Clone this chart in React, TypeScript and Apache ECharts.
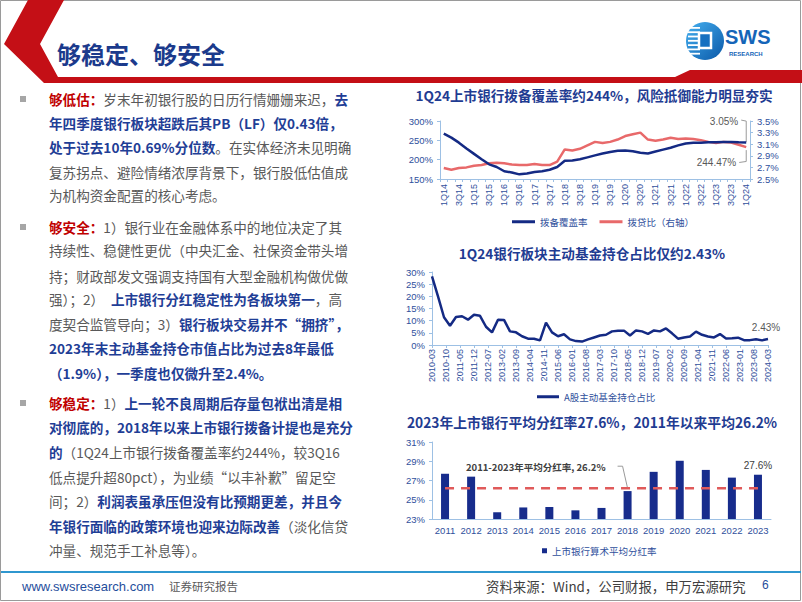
import React, { useEffect, useRef } from 'react';
import * as echarts from 'echarts';

// ---------- data ----------
const quarterLabels: string[] = (() => {
  const a: string[] = [];
  for (let y = 14; y <= 24; y++) {
    for (let q = 1; q <= 4; q++) {
      if (y === 24 && q > 1) break;
      a.push(`${q}Q${y}`);
    }
  }
  return a;
})();

// 拨备覆盖率 (%), 1Q14 - 1Q24
const coverageRatio = [
  267.6, 257, 244, 229,
  215, 201, 188, 181,
  170, 167, 162, 164,
  168, 170, 174, 181,
  197, 198, 201, 206,
  211, 216, 220, 223,
  224, 222, 218, 216,
  221, 226, 231, 237,
  242, 244, 244, 245,
  245, 246, 246, 245,
  244.47,
];

// 拨贷比 (%), right axis
const loanProvisionRatio = [
  2.69, 2.66, 2.69, 2.7,
  2.73, 2.74, 2.77, 2.78,
  2.77, 2.75, 2.74, 2.74,
  2.76, 2.74, 2.74, 2.8,
  3.01, 2.99, 3.02, 3.08,
  3.14, 3.12, 3.14, 3.18,
  3.24, 3.27, 3.3, 3.18,
  3.16, 3.18, 3.21, 3.19,
  3.2, 3.19, 3.17, 3.14,
  3.12, 3.14, 3.13, 3.09,
  3.05,
];

// month categories 2010-03 .. 2024-03
const monthLabels: string[] = (() => {
  const a: string[] = [];
  let y = 2010;
  let m = 3;
  while (y < 2024 || (y === 2024 && m <= 3)) {
    a.push(`${y}-${String(m).padStart(2, '0')}`);
    m++;
    if (m > 12) { m = 1; y++; }
  }
  return a;
})();

// A股主动基金持仓占比 (%), quarter ends 2010-03 .. 2024-03
const fundShareQuarterly = [
  28.2, 20.0, 11.4, 7.9, 11.5, 11.8, 10.4, 12.4, 12.0, 7.5,
  5.2, 10.4, 10.3, 5.6, 5.2, 3.6, 2.6, 2.6, 1.9, 9.2,
  5.2, 3.6, 4.4, 2.3, 1.6, 1.4, 2.3, 3.1, 3.9, 4.2,
  5.6, 5.9, 5.9, 3.9, 6.0, 5.6, 4.6, 6.0, 5.6, 6.8,
  4.8, 2.6, 3.1, 3.5, 5.5, 4.2, 3.5, 3.1, 4.5, 2.7,
  2.8, 3.0, 2.0, 2.0, 2.4, 1.9, 2.43,
];

const payoutYears = ['2011', '2012', '2013', '2014', '2015', '2016', '2017', '2018', '2019', '2020', '2021', '2022', '2023'];
const payoutRatio = [27.7, 27.4, 23.7, 24.2, 24.25, 23.9, 24.15, 25.9, 27.9, 29.05, 28.1, 27.3, 27.6];
const payoutAverage = 26.2;

// ---------- styles ----------
const TITLE_COLOR = '#1F3C92';
const AXIS_LINE = '#9DC0E4';
const AXIS_LABEL = '#30509C';
const NAVY = '#142A84';
const RED_LINE = '#E8696A';
const FONT_CN = "'Noto Sans CJK SC', sans-serif";
const FONT_NUM = "'Liberation Sans', 'Noto Sans CJK SC', sans-serif";
const BODY_FS = 13.6;

const bodyLines: { y: number; segs: [string, string][] }[] = [
  { y: 99, segs: [['r', '够低估：'], ['g', '岁末年初银行股的日历行情姗姗来迟，'], ['b', '去']] },
  { y: 123, segs: [['b', '年四季度银行板块超跌后其PB（LF）仅0.43倍，']] },
  { y: 147, segs: [['b', '处于过去10年0.69%分位数'], ['g', '。在实体经济未见明确']] },
  { y: 172, segs: [['g', '复苏拐点、避险情绪浓厚背景下，银行股低估值成']] },
  { y: 195, segs: [['g', '为机构资金配置的核心考虑。']] },
  { y: 227, segs: [['r', '够安全：'], ['g', '1）银行业在金融体系中的地位决定了其']] },
  { y: 250, segs: [['g', '持续性、稳健性更优（中央汇金、社保资金带头增']] },
  { y: 276, segs: [['g', '持；财政部发文强调支持国有大型金融机构做优做']] },
  { y: 299, segs: [['g', '强）；2）'], ['b', '上市银行分红稳定性为各板块第一'], ['g', '，高']] },
  { y: 324, segs: [['g', '度契合监管导向；3）'], ['b', '银行板块交易并不“拥挤”，']] },
  { y: 348, segs: [['b', '2023年末主动基金持仓市值占比为过去8年最低']] },
  { y: 373, segs: [['b', '（1.9%），一季度也仅微升至2.4%。']] },
  { y: 403, segs: [['r', '够稳定：'], ['g', '1）'], ['b', '上一轮不良周期后存量包袱出清是相']] },
  { y: 427, segs: [['b', '对彻底的，2018年以来上市银行拨备计提也是充分']] },
  { y: 452, segs: [['b', '的'], ['g', '（1Q24上市银行拨备覆盖率约244%，较3Q16']] },
  { y: 477, segs: [['g', '低点提升超80pct），为业绩“以丰补歉”留足空']] },
  { y: 501, segs: [['g', '间；2）'], ['b', '利润表虽承压但没有比预期更差，并且今']] },
  { y: 526, segs: [['b', '年银行面临的政策环境也迎来边际改善'], ['g', '（淡化信贷']] },
  { y: 550, segs: [['g', '冲量、规范手工补息等）。']] },
];
const bulletYs = [99, 227, 403];

function txt(x: number, y: number, text: string, o: any = {}) {
  const align = o.align || 'left';
  return {
    type: 'text',
    x,
    y,
    silent: true,
    style: {
      text,
      fill: o.fill || '#333',
      fontSize: o.fontSize || 12,
      fontWeight: o.fontWeight || 'normal',
      fontFamily: o.fontFamily || FONT_CN,
      textAlign: align,
      align,
      textVerticalAlign: 'middle',
      verticalAlign: 'middle',
    },
  };
}

function staticGraphics(): any[] {
  const g: any[] = [];
  // slide border
  g.push({ type: 'rect', shape: { x: 0.5, y: 0.5, width: 800, height: 600 }, style: { fill: 'none', stroke: '#9A9A9A', lineWidth: 1 }, silent: true });
  // red header chevron + bar
  g.push({
    type: 'polygon',
    silent: true,
    shape: {
      points: [[28, 0], [64, 0], [40, 44], [58, 77], [675, 77], [690, 70], [802, 70], [802, 83], [44, 83], [4, 44]],
    },
    style: { fill: '#C40F16' },
  });
  // page title
  g.push(txt(57, 53, '够稳定、够安全', { fontSize: 24, fontWeight: 'bold', fill: '#1B3A8C' }));
  // logo
  g.push({
    type: 'circle',
    silent: true,
    shape: { cx: 705, cy: 41, r: 19 },
    style: {
      fill: new echarts.graphic.LinearGradient(0, 0, 1, 1, [
        { offset: 0, color: '#45B0F0' },
        { offset: 1, color: '#0A58A8' },
      ]),
    },
  });
  for (let i = 0; i < 7; i++) {
    g.push({ type: 'rect', silent: true, shape: { x: 688, y: 27 + i * 4.3, width: 12, height: 1.8 }, style: { fill: '#ffffff' } });
  }
  g.push({ type: 'rect', silent: true, shape: { x: 699, y: 33, width: 12, height: 15 }, style: { fill: '#1670C0', stroke: '#ffffff', lineWidth: 2.5 } });
  g.push(txt(725, 37, 'SWS', { fontSize: 20, fontWeight: 'bold', fill: '#1565B8', fontFamily: FONT_NUM }));
  g.push(txt(729, 53.5, 'RESEARCH', { fontSize: 6, fontWeight: 'bold', fill: '#1565B8', fontFamily: FONT_NUM }));

  // body bullets + text
  bulletYs.forEach((y) => {
    g.push({ type: 'rect', silent: true, shape: { x: 20, y: y - 3, width: 6, height: 6 }, style: { fill: '#A6A6A6' } });
  });
  const rich = {
    r: { fill: '#C00000', fontWeight: 'bold', fontSize: BODY_FS, fontFamily: FONT_CN },
    g: { fill: '#595959', fontWeight: 'normal', fontSize: BODY_FS, fontFamily: FONT_CN },
    b: { fill: '#1F3E96', fontWeight: 'bold', fontSize: BODY_FS, fontFamily: FONT_CN },
  };
  bodyLines.forEach((ln) => {
    g.push({
      type: 'text',
      x: 49,
      y: ln.y,
      silent: true,
      style: {
        text: ln.segs.map(([k, t]) => `{${k}|${t}}`).join(''),
        rich,
        fontSize: BODY_FS,
        fontFamily: FONT_CN,
        textAlign: 'left',
        align: 'left',
        textVerticalAlign: 'middle',
        verticalAlign: 'middle',
      },
    });
  });

  // chart titles
  g.push(txt(594, 95, '1Q24上市银行拨备覆盖率约244%，风险抵御能力明显夯实', { align: 'center', fontSize: 13.6, fontWeight: 'bold', fill: TITLE_COLOR }));
  g.push(txt(592, 253, '1Q24银行板块主动基金持仓占比仅约2.43%', { align: 'center', fontSize: 13.6, fontWeight: 'bold', fill: TITLE_COLOR }));
  g.push(txt(592, 422, '2023年上市银行平均分红率27.6%，2011年以来平均26.2%', { align: 'center', fontSize: 13.8, fontWeight: 'bold', fill: TITLE_COLOR }));

  // footer
  g.push({ type: 'line', silent: true, shape: { x1: 1, y1: 572, x2: 801, y2: 572 }, style: { stroke: '#2F97CF', lineWidth: 2 } });
  g.push(txt(22, 586, 'www.swsresearch.com', { fontSize: 13, fill: '#1F4E9C', fontFamily: FONT_NUM }));
  g.push(txt(169, 586, '证券研究报告', { fontSize: 11.5, fill: '#595959' }));
  g.push(txt(486, 586, '资料来源：Wind，公司财报，申万宏源研究', { fontSize: 13.4, fill: '#404040' }));
  g.push(txt(762, 585, '6', { fontSize: 12, fill: '#1F4E9C', fontFamily: FONT_NUM }));
  return g;
}

function axisCommon() {
  return {
    axisLine: { show: true, lineStyle: { color: AXIS_LINE, width: 1 } },
    axisTick: { show: true, length: 3, lineStyle: { color: AXIS_LINE } },
    splitLine: { show: false },
  };
}

function buildOption(): any {
  const fundMonthly = monthLabels.map((_, i) => (i % 3 === 0 ? fundShareQuarterly[i / 3] : null));
  const lastIdx = payoutRatio.length - 1;
  const labelBase = { color: AXIS_LABEL, fontFamily: FONT_NUM };
  return {
    animation: false,
    textStyle: { fontFamily: FONT_NUM },
    grid: [
      { left: 440, top: 121, width: 310, height: 58 },
      { left: 432, top: 272, width: 336, height: 73 },
      { left: 432, top: 442, width: 339, height: 77 },
    ],
    legend: [
      {
        data: ['拨备覆盖率', '拨贷比（右轴）'],
        left: 512, top: 217, padding: 0, itemWidth: 23, itemHeight: 3, itemGap: 12, icon: 'rect',
        textStyle: { fontSize: 9.5, color: AXIS_LABEL, fontFamily: FONT_CN },
      },
      {
        data: ['A股主动基金持仓占比'],
        left: 537, top: 392, padding: 0, itemWidth: 22, itemHeight: 3, icon: 'rect',
        textStyle: { fontSize: 9.5, color: AXIS_LABEL, fontFamily: FONT_CN },
      },
      {
        data: ['上市银行算术平均分红率'],
        left: 542, top: 546, padding: 0, itemWidth: 5, itemHeight: 5, icon: 'rect',
        textStyle: { fontSize: 9.5, color: AXIS_LABEL, fontFamily: FONT_CN },
      },
    ],
    xAxis: [
      {
        gridIndex: 0, type: 'category', data: quarterLabels, boundaryGap: true,
        ...axisCommon(),
        axisTick: { show: true, interval: 0, length: 3, lineStyle: { color: AXIS_LINE } },
        axisLabel: { ...labelBase, interval: 1, rotate: 90, fontSize: 9, margin: 5 },
      },
      {
        gridIndex: 1, type: 'category', data: monthLabels, boundaryGap: false,
        ...axisCommon(),
        axisTick: { show: true, interval: 6, length: 3, lineStyle: { color: AXIS_LINE } },
        axisLabel: { ...labelBase, interval: 6, rotate: 90, fontSize: 9, margin: 4 },
      },
      {
        gridIndex: 2, type: 'category', data: payoutYears, boundaryGap: true,
        ...axisCommon(),
        axisTick: { show: false },
        axisLabel: { ...labelBase, interval: 0, fontSize: 9.5, margin: 7 },
      },
    ],
    yAxis: [
      {
        gridIndex: 0, type: 'value', min: 150, max: 300, interval: 50,
        ...axisCommon(),
        axisLabel: { ...labelBase, fontSize: 9.5, margin: 7, formatter: '{value}%' },
      },
      {
        gridIndex: 0, type: 'value', position: 'right', min: 2.5, max: 3.5, interval: 0.2,
        ...axisCommon(),
        axisLabel: { ...labelBase, fontSize: 9.5, margin: 7, formatter: (v: number) => v.toFixed(1) + '%' },
      },
      {
        gridIndex: 1, type: 'value', min: 0, max: 30, interval: 5,
        ...axisCommon(),
        axisLabel: { ...labelBase, fontSize: 9.5, margin: 7, formatter: '{value}%' },
      },
      {
        gridIndex: 2, type: 'value', min: 23, max: 31, interval: 2,
        ...axisCommon(),
        axisLabel: { ...labelBase, fontSize: 9.5, margin: 7, formatter: '{value}%' },
      },
    ],
    series: [
      {
        name: '拨备覆盖率', type: 'line', xAxisIndex: 0, yAxisIndex: 0, data: coverageRatio,
        symbol: 'none', color: NAVY, lineStyle: { width: 2.5, color: NAVY }, z: 3,
      },
      {
        name: '拨贷比（右轴）', type: 'line', xAxisIndex: 0, yAxisIndex: 1, data: loanProvisionRatio,
        symbol: 'none', color: RED_LINE, lineStyle: { width: 2.5, color: RED_LINE }, z: 2,
      },
      {
        name: 'A股主动基金持仓占比', type: 'line', xAxisIndex: 1, yAxisIndex: 2, data: fundMonthly,
        connectNulls: true, symbol: 'none', color: NAVY, lineStyle: { width: 2.5, color: NAVY },
      },
      {
        name: '上市银行算术平均分红率', type: 'bar', xAxisIndex: 2, yAxisIndex: 3, barWidth: 8,
        color: '#172C8C',
        data: payoutRatio.map((v, i) =>
          i === lastIdx
            ? { value: v, label: { show: true, position: 'top', distance: 4, formatter: '{c}%', color: '#404040', fontSize: 10, fontFamily: FONT_NUM } }
            : v
        ),
      },
      {
        name: '平均分红率', type: 'line', xAxisIndex: 2, yAxisIndex: 3,
        data: payoutYears.map(() => payoutAverage),
        symbol: 'none', color: '#E05A5A', z: 4,
        lineStyle: { width: 2.5, color: '#E05A5A', type: [9, 7] },
      },
    ],
  };
}

export default function App() {
  const ref = useRef<HTMLDivElement>(null);
  useEffect(() => {
    if (!ref.current) return;
    const chart = echarts.init(ref.current, null, { renderer: 'svg' });
    chart.setOption(buildOption());

    const n = coverageRatio.length - 1;
    const pb = chart.convertToPixel({ seriesIndex: 0 }, [n, coverageRatio[n]]) as number[];
    const pr = chart.convertToPixel({ seriesIndex: 1 }, [n, loanProvisionRatio[n]]) as number[];
    const m = monthLabels.length - 1;
    const pf = chart.convertToPixel({ seriesIndex: 2 }, [m, fundShareQuarterly[fundShareQuarterly.length - 1]]) as number[];
    const pa = chart.convertToPixel({ seriesIndex: 4 }, [7, payoutAverage]) as number[];

    const grey = '#9A9A9A';
    const annot: any[] = [
      txt(pb[0] - 8, pr[1] - 26, `${loanProvisionRatio[n].toFixed(2)}%`, { align: 'right', fontSize: 10, fill: '#595959', fontFamily: FONT_NUM }),
      { type: 'polyline', silent: true, shape: { points: [[pb[0] - 5, pr[1] - 27], [pb[0], pr[1] - 26], [pb[0], pr[1] - 5]] }, style: { stroke: grey, lineWidth: 1, fill: null } },
      txt(pb[0] - 10, pb[1] + 20, `${coverageRatio[n].toFixed(2)}%`, { align: 'right', fontSize: 10, fill: '#595959', fontFamily: FONT_NUM }),
      { type: 'polyline', silent: true, shape: { points: [[pb[0] - 7, pb[1] + 20], [pb[0], pb[1] + 19], [pb[0], pr[1] + 3]] }, style: { stroke: grey, lineWidth: 1, fill: null } },
      txt(pf[0] - 2, pf[1] - 12, `${fundShareQuarterly[fundShareQuarterly.length - 1].toFixed(2)}%`, { align: 'center', fontSize: 10, fill: '#595959', fontFamily: FONT_NUM }),
      txt(pa[0] - 22, pa[1] - 21, `2011-2023年平均分红率, ${payoutAverage}%`, { align: 'right', fontSize: 9.5, fontWeight: 'bold', fill: '#404040' }),
      { type: 'polyline', silent: true, shape: { points: [[pa[0] - 10, pa[1] - 22], [pa[0] - 5, pa[1] - 22], [pa[0], pa[1]]] }, style: { stroke: grey, lineWidth: 1, fill: null } },
    ];
    chart.setOption({ graphic: [...staticGraphics(), ...annot] });
    return () => chart.dispose();
  }, []);
  return <div ref={ref} style={{ position: 'fixed', left: 0, top: 0, width: 802, height: 602, background: '#ffffff' }} />;
}
